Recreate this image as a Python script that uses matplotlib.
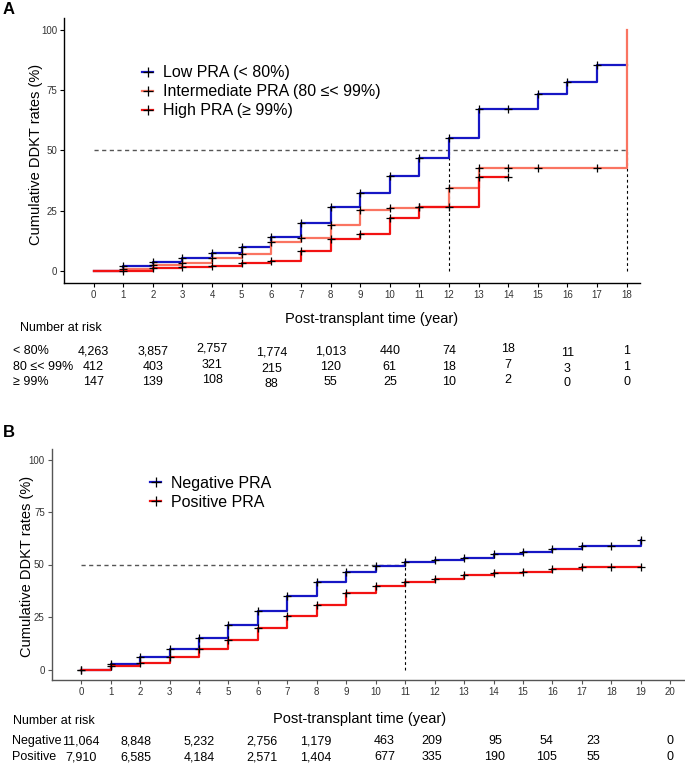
import matplotlib
matplotlib.use("Agg")
import matplotlib.pyplot as plt
from matplotlib.lines import Line2D
import matplotlib.transforms as mtransforms

plt.rcParams['font.family'] = ['Liberation Sans', 'DejaVu Sans']

# ---------------- Panel A data ----------------
A_low_times = list(range(0, 19))
A_low = [0, 2.0, 3.6, 5.4, 7.6, 10.1, 14.0, 20.1, 26.4, 32.4, 39.5, 46.8, 55.3,
         67.2, 67.2, 73.4, 78.3, 85.5, 85.5]
A_low_censor = list(range(1, 18))

A_int_times = list(range(0, 19)) + [18]
A_int = [0, 1.0, 2.5, 3.2, 5.2, 7.1, 11.9, 13.8, 18.9, 25.2, 26.3, 26.7, 34.6,
         42.7, 42.7, 42.7, 42.7, 42.7, 42.7, 100]
A_int_censor = [1, 2, 3, 4, 5, 6, 7, 8, 9, 10, 11, 12, 13, 14, 15, 17]

A_high_times = list(range(0, 15))
A_high = [0, 0, 1.4, 1.7, 2.2, 3.2, 4.1, 8.4, 13.3, 15.5, 22.1, 26.6, 26.6, 38.9, 38.9]
A_high_censor = list(range(1, 15))

A_labels = ["Low PRA (< 80%)", "Intermediate PRA (80 \u2264< 99%)", "High PRA (\u2265 99%)"]
A_median_times = [12, 18]

A_risk_times = list(range(0, 19, 2))
A_risk_rows = ["< 80%", "80 \u2264< 99%", "\u2265 99%"]
A_risk_low = [4263, 3857, 2757, 1774, 1013, 440, 74, 18, 11, 1]
A_risk_int = [412, 403, 321, 215, 120, 61, 18, 7, 3, 1]
A_risk_high = [147, 139, 108, 88, 55, 25, 10, 2, 0, 0]

# ---------------- Panel B data ----------------
B_times = list(range(0, 20))
B_neg = [0, 2.4, 5.9, 9.9, 14.8, 21.0, 27.8, 35.0, 41.5, 46.6, 49.2, 51.3, 52.2,
         53.2, 54.8, 55.9, 57.6, 58.9, 58.9, 61.5]
B_pos = [0, 1.6, 3.0, 5.9, 9.8, 14.2, 19.6, 25.3, 30.5, 36.3, 39.8, 41.5, 43.1,
         45.0, 46.1, 46.4, 47.8, 48.6, 48.6, 48.6]
B_censor = list(range(0, 20))
B_labels = ["Negative PRA", "Positive PRA"]
B_median_time = 11

B_risk_times = list(range(0, 21, 2))
B_risk_rows = ["Negative", "Positive"]
B_risk_neg = [11064, 8848, 5232, 2756, 1179, 463, 209, 95, 54, 23, 0]
B_risk_pos = [7910, 6585, 4184, 2571, 1404, 677, 335, 190, 105, 55, 0]

# ---------------- style / layout ----------------
C_BLUE = '#1616C4'
C_SALMON = '#FA7461'
C_RED = '#F21212'
W, H = 685, 767
A_col_dy = [0, 0, -2, 1.7, 0, 0, 0, -2, 1.5, 0]          # px vertical jitter of columns
B_col_x = [0, 1.85, 4.0, 6.15, 7.95, 10.3, 11.9, 14.05, 15.8, 17.4, 20]  # column positions

fig = plt.figure(figsize=(W / 100, H / 100), dpi=100)


def fx(px):
    return px / W


def fy(py):
    return 1 - py / H


def val_at(times, vals, t):
    v = vals[0]
    for tt, vv in zip(times, vals):
        if tt <= t:
            v = vv
    return v


def draw_curve(ax, times, vals, censor, color, z):
    ax.step(times, vals, where='post', color=color, lw=1.6, zorder=z)
    cy = [val_at(times, vals, t) for t in censor]
    ax.plot(censor, cy, ls='none', marker='+', ms=6, mew=0.9, color='black', zorder=z + 0.5)


def style_axes(ax, spine_color, xmax_tick):
    for s in ['top', 'right']:
        ax.spines[s].set_visible(False)
    for s in ['left', 'bottom']:
        ax.spines[s].set_color(spine_color)
        ax.spines[s].set_linewidth(1.0)
    ax.set_xticks(range(0, xmax_tick + 1))
    ax.set_yticks([0, 25, 50, 75, 100])
    ax.tick_params(axis='both', labelsize=7, length=3, width=0.8, pad=2,
                   colors=spine_color, labelcolor='#333333')
    ax.set_ylim(-5, 105)


# ---------------- Panel A ----------------
axA = fig.add_axes([fx(64), fy(283), fx(640 - 64), (283 - 18) / H])
style_axes(axA, 'black', 18)
axA.set_xlim(-1.0, 18.45)
axA.plot([0, 18], [50, 50], ls=(0, (3, 2.5)), color='#555555', lw=1.0, zorder=1)
for t in A_median_times:
    axA.plot([t, t], [0, 50], ls=(0, (2.5, 2.5)), color='black', lw=0.8, zorder=1)
draw_curve(axA, A_low_times, A_low, A_low_censor, C_BLUE, 3)
axA.step(A_int_times, A_int, where='post', color=C_SALMON, lw=1.6, zorder=4)
axA.plot(A_int_censor, [val_at(A_int_times[:-1], A_int[:-1], t) for t in A_int_censor],
         ls='none', marker='+', ms=6, mew=0.9, color='black', zorder=4.5)
draw_curve(axA, A_high_times, A_high, A_high_censor, C_RED, 5)

handlesA = [Line2D([], [], color=c, lw=1.6, marker='+', mec='black', ms=7, mew=0.9)
            for c in (C_BLUE, C_SALMON, C_RED)]
axA.legend(handlesA, A_labels, loc='upper left', bbox_to_anchor=(0.135, 0.822),
           frameon=False, fontsize=11.5, handlelength=0.72, handletextpad=0.58,
           labelspacing=0.26, borderpad=0, borderaxespad=0)

axA.set_ylabel("Cumulative DDKT rates (%)", fontsize=10.5)
axA.yaxis.set_label_coords((36 - 64) / 576, (283 - 154) / 265)
axA.yaxis.label.set_va('center')
axA.set_xlabel("Post-transplant time (year)", fontsize=10.5)
axA.xaxis.set_label_coords((372 - 64) / 576, (283 - 319) / 265)
axA.xaxis.label.set_va('center')

fig.text(fx(9), fy(10), "A", fontsize=12, fontweight='bold', ha='center', va='center')
fig.text(fx(20), fy(328), "Number at risk", fontsize=9, ha='left', va='center')
trA = mtransforms.blended_transform_factory(axA.transData, fig.transFigure)
for row_lab, row_vals, ypx in zip(A_risk_rows, [A_risk_low, A_risk_int, A_risk_high],
                                  [351, 367, 382]):
    fig.text(fx(13), fy(ypx), row_lab, fontsize=9, ha='left', va='center')
    for t, v, dy in zip(A_risk_times, row_vals, A_col_dy):
        fig.text(t, fy(ypx + dy), f"{v:,}", fontsize=9, ha='center', va='center',
                 transform=trA)

# ---------------- Panel B ----------------
axB = fig.add_axes([fx(51.7), fy(680), fx(685 - 51.7), (680 - 449) / H])
style_axes(axB, '#555555', 20)
axB.set_xlim(-1.0, 20.5)
axB.plot([0, B_median_time], [50, 50], ls=(0, (3, 2.5)), color='#555555', lw=1.0, zorder=1)
axB.plot([B_median_time, B_median_time], [0, 50], ls=(0, (2.5, 2.5)), color='black',
         lw=0.8, zorder=1)
draw_curve(axB, B_times, B_neg, B_censor, C_BLUE, 3)
draw_curve(axB, B_times, B_pos, B_censor, C_RED, 4)

handlesB = [Line2D([], [], color=c, lw=1.6, marker='+', mec='black', ms=7, mew=0.9)
            for c in (C_BLUE, C_RED)]
axB.legend(handlesB, B_labels, loc='upper left', bbox_to_anchor=(0.155, 0.885),
           frameon=False, fontsize=11.5, handlelength=0.72, handletextpad=0.58,
           labelspacing=0.28, borderpad=0, borderaxespad=0)

axB.set_ylabel("Cumulative DDKT rates (%)", fontsize=10.5)
axB.yaxis.set_label_coords((27 - 51.7) / 633.3, (680 - 566) / 231)
axB.yaxis.label.set_va('center')
axB.set_xlabel("Post-transplant time (year)", fontsize=10.5)
axB.xaxis.set_label_coords((360 - 51.7) / 633.3, (680 - 719) / 231)
axB.xaxis.label.set_va('center')

fig.text(fx(9), fy(433), "B", fontsize=12, fontweight='bold', ha='center', va='center')
fig.text(fx(13), fy(721), "Number at risk", fontsize=9, ha='left', va='center')
trB = mtransforms.blended_transform_factory(axB.transData, fig.transFigure)
for row_lab, row_vals, ypx in zip(B_risk_rows, [B_risk_neg, B_risk_pos], [741, 757]):
    fig.text(fx(12), fy(ypx), row_lab, fontsize=9, ha='left', va='center')
    for x, v in zip(B_col_x, row_vals):
        fig.text(x, fy(ypx), f"{v:,}", fontsize=9, ha='center', va='center',
                 transform=trB)

fig.savefig("out.png", dpi=100)
